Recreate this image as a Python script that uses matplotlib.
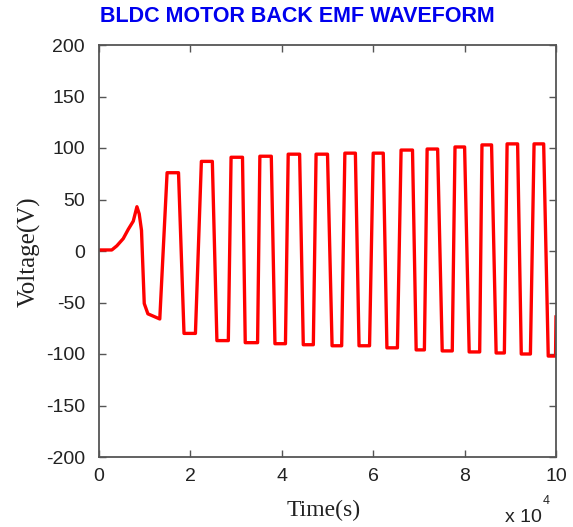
import matplotlib
matplotlib.use('Agg')
import matplotlib.pyplot as plt

plt.rcParams['axes.unicode_minus'] = False

# start-up part of the waveform (time in 1e4 s, voltage in V)
t_start = [0.0, 0.28, 0.39, 0.53, 0.64, 0.75, 0.83, 0.88, 0.93, 0.99, 1.07, 1.33]
v_start = [1, 1, 5, 12, 21, 29, 43, 36, 20, -51, -61, -66]

# flat parts of the trapezoid: start time, end time, level
flat_t0 = [1.49, 1.86, 2.24, 2.58, 2.89, 3.20, 3.52, 3.85, 4.14, 4.47, 4.75, 5.10, 5.38, 5.69,
           6.00, 6.30, 6.61, 6.94, 7.18, 7.51, 7.79, 8.10, 8.38, 8.69, 8.93, 9.24, 9.52, 9.83]
flat_t1 = [1.74, 2.11, 2.48, 2.83, 3.14, 3.47, 3.77, 4.08, 4.39, 4.69, 5.00, 5.31, 5.61, 5.92,
           6.22, 6.53, 6.86, 7.12, 7.41, 7.73, 8.00, 8.33, 8.59, 8.87, 9.16, 9.44, 9.73, 9.99]
flat_v = [76, -80, 87, -87, 91, -89, 92, -90, 94, -91, 94, -92, 95, -92,
          95, -94, 98, -96, 99, -97, 101, -98, 103, -99, 104, -100, 104, -102]

t_end = [10.0]
v_end = [-64]

# build the polyline
t = list(t_start)
v = list(v_start)
for a, b, lvl in zip(flat_t0, flat_t1, flat_v):
    t += [a, b]
    v += [lvl, lvl]
t += t_end
v += v_end

fig = plt.figure(figsize=(5.73, 5.27), dpi=100)
ax = fig.add_axes([99/573, 70/527, 457/573, 412/527])

ax.plot(t, v, color='#ff0000', linewidth=2.4)

ax.set_xlim(0, 10)
ax.set_ylim(-200, 200)
ax.set_xticks(range(0, 11, 2))
ax.set_yticks(range(-200, 201, 50))
ax.tick_params(direction='in', length=5, width=1, colors='#555555',
               top=True, right=True, labelcolor='#222222', labelsize=14)
ax.tick_params(axis='x', pad=8)
ax.tick_params(axis='y', pad=10)
for lab in ax.get_xticklabels() + ax.get_yticklabels():
    lab.set_family('Liberation Sans')
for s in ax.spines.values():
    s.set_color('#555555')
    s.set_linewidth(1.3)

fig.text(297/573, 1 - 17/527, 'BLDC MOTOR BACK EMF WAVEFORM', color='#0000ee',
         fontweight='bold', fontsize=15.5, family='Liberation Sans', ha='center', va='center')
fig.text(29/573, 1 - 252/527, 'Voltage(V)', rotation=90, fontsize=18,
         family='Liberation Serif', color='#222222', ha='center', va='center')
fig.text(324/573, 1 - 510/527, 'Time(s)', fontsize=17,
         family='Liberation Serif', color='#222222', ha='center', va='center')
fig.text(505/573, 1 - 517/527, 'x 10', fontsize=14,
         family='Liberation Sans', color='#222222', ha='left', va='center')
fig.text(543/573, 1 - 501/527, '4', fontsize=9,
         family='Liberation Sans', color='#222222', ha='left', va='center')

fig.savefig('out.png', dpi=100)
